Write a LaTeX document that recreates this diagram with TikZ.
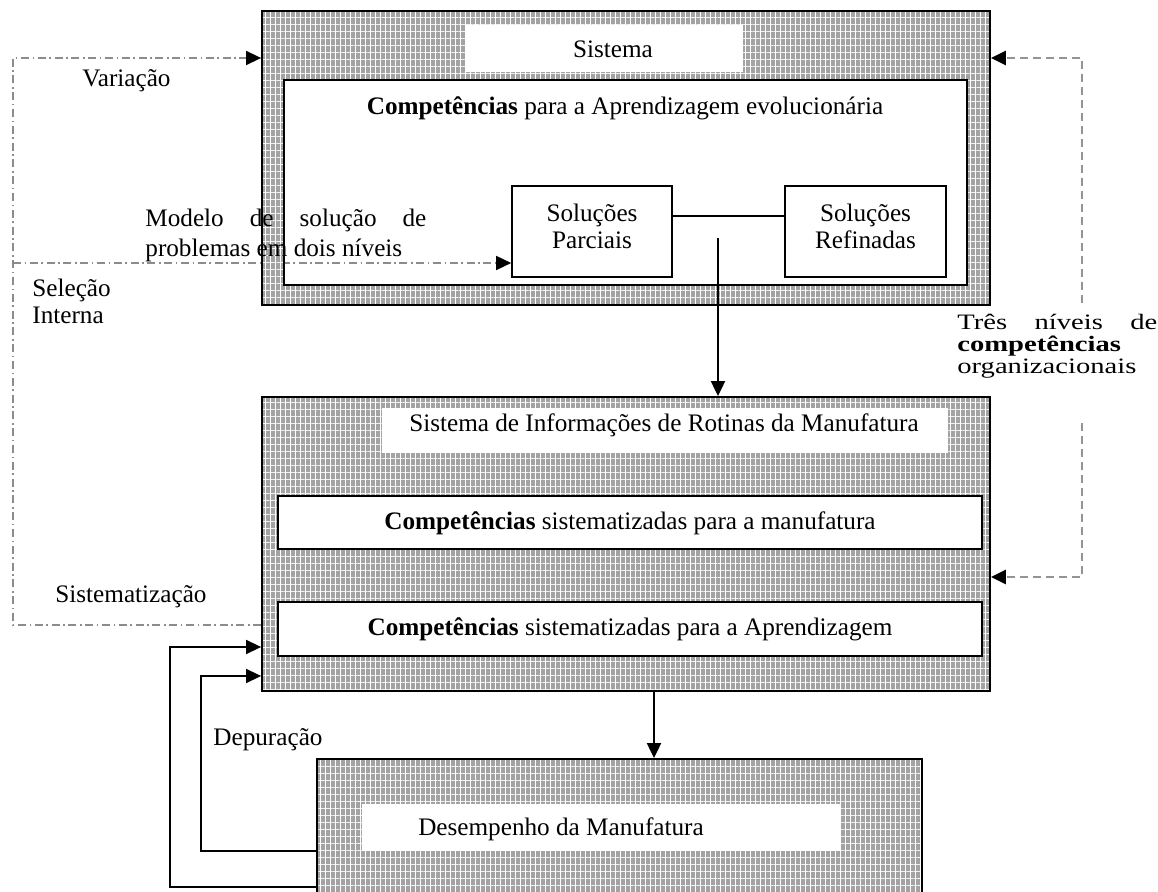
\documentclass[tikz,border=0pt]{standalone}
\usepackage{fontspec}
\setmainfont{Liberation Serif}
\usepackage{graphicx}
\usetikzlibrary{arrows.meta,patterns.meta,fit}
\pgfdeclarelayer{under}
\pgfdeclarelayer{shade}
\pgfsetlayers{under,shade,main}
\definecolor{texgray}{gray}{0.64}
\definecolor{linkgray}{gray}{0.55}
\definecolor{dashgray}{gray}{0.58}

\tikzset{
  lbl/.style={inner sep=0pt, font=\fontsize{12.6}{15}\selectfont},
  texture/.style={preaction={fill=texgray},
    preaction={pattern={Lines[angle=0,distance=3.5pt,line width=0.35pt]}, pattern color=white!85!texgray},
    pattern={Lines[angle=90,distance=2.5pt,line width=0.45pt]}, pattern color=white},
  frame/.style={lbl, draw=black, line width=0.9pt},
  band/.style={lbl, fill=white},
  whitebox/.style={lbl, fill=white, draw=black, line width=0.8pt},
  tip/.style={-{Triangle[length=7.5pt,width=7pt,color=black,fill=black]}},
  solidarrow/.style={line width=1pt, tip},
  feedback/.style={line width=0.75pt, tip},
  dashdotline/.style={draw=linkgray, line width=0.75pt, dash pattern=on 4pt off 1.8pt on 0.8pt off 1.8pt},
  dashedline/.style={draw=dashgray, line width=1.2pt, dash pattern=on 4pt off 2.5pt},
}

\begin{document}
\begin{tikzpicture}[x=0.5pt,y=-0.5pt]
\useasboundingbox (0,0) rectangle (1158,892);

% --- Sistema ---
\node[frame, fit={(262,11)(990,305)}] (sys) {};
\node[band, fit={(465,25)(743,72)}] (systitle) {};
\node[lbl] (systxt) at (613,49) {Sistema};
\node[frame, line width=0.8pt, fit={(284,80)(967,285)}] (sysin) {};
\node[lbl] (comp) at (625,108) {\textbf{Competências} para a Aprendizagem evolucionária};
\node[whitebox, fit={(512,186)(672,277)}] (parc) {};
\node[lbl, align=center, font=\fontsize{12.6}{13.5}\selectfont] (parctxt) at ([yshift=2.5pt]parc.center) {Soluções\\Parciais};
\node[whitebox, fit={(785,186)(946,277)}] (refi) {};
\node[lbl, align=center, font=\fontsize{12.6}{13.5}\selectfont] (refitxt) at ([yshift=2.5pt]refi.center) {Soluções\\Refinadas};

% textured ring around the inner panel
\begin{pgfonlayer}{shade}
  \begin{scope}[even odd rule]
    \path[texture] (sys.north west) rectangle (sys.south east)
                   (sysin.north west) rectangle (sysin.south east);
  \end{scope}
\end{pgfonlayer}

% --- Sistema de Informacoes ---
\node[frame, texture, fit={(262,397)(990,691)}] (inf) {};
\node[band, fit={(382,408)(948,453)}] (inftitle) {};
\node[lbl] (inftxt) at (664,425) {Sistema de Informações de Rotinas da Manufatura};
\node[whitebox, fit={(278,496)(982,549)}] (manu) {};
\node[lbl] (manutxt) at (630,523) {\textbf{Competências} sistematizadas para a manufatura};
\node[whitebox, fit={(278,602)(982,656)}] (apre) {};
\node[lbl] (apretxt) at (630,629) {\textbf{Competências} sistematizadas para a Aprendizagem};

% --- Desempenho ---
\node[frame, texture, fit={(317,759)(922,900)}] (des) {};
\node[band, fit={(362,804)(841,851)}] (destitle) {};
\node[lbl] (destxt) at (561,829) {Desempenho da Manufatura};

% --- solid connectors ---
\draw[line width=0.75pt] ([yshift=7.75pt]parc.east) -- ([yshift=7.75pt]refi.west);
\coordinate (jn) at (718,238);
\draw[solidarrow] (jn) -- (jn |- inf.north);
\coordinate (dn) at ([xshift=14pt]inf.south);
\draw[solidarrow] (dn) -- (dn |- des.north);
\draw[feedback] (des.west |- 0,887) -- (170,887) -- (170,647) -- (inf.west |- 0,647);
\draw[feedback] (des.west |- 0,851) -- (201,851) -- (201,676) -- (inf.west |- 0,676);

% --- dash-dot loop on the left ---
\draw[dashdotline, tip] (inf.west |- 0,625) -- (13,625) -- (13,58) -- (sys.west |- 0,58);
\begin{pgfonlayer}{under}
  \draw[dashdotline, tip] (13,263) -- (parc.west |- 0,263);
\end{pgfonlayer}

% --- dashed loop on the right ---
\coordinate (rt) at (1082,303);
\coordinate (rb) at (1082,423);
\draw[dashedline, tip] (rt) -- (1082,58) -- (sys.east |- 0,58);
\draw[dashedline, tip] (rb) -- (1082,577) -- (inf.east |- 0,577);

% --- labels ---
\node[lbl, anchor=base west] (lvar) at (82,87) {Variação};
\node[lbl, anchor=north west, align=left] (lmod) at (145,209)
  {\makebox[140.5pt][s]{Modelo de solução de}\\problemas em dois níveis};
\node[lbl, anchor=north west, align=left, font=\fontsize{12.6}{13.5}\selectfont] (lsel) at (32,279) {Seleção\\Interna};
\node[lbl, anchor=base west] (lsis) at (55,603) {Sistematização};
\node[lbl, anchor=base west] (ldep) at (213,746) {Depuração};
\node[lbl, anchor=north west, align=left, font=\fontsize{11}{11}\selectfont] (lniv) at (957,314)
  {\scalebox{1.3}[1]{\makebox[76.9pt][s]{Três níveis de}}\\
   \scalebox{1.3}[1]{\textbf{competências}}\\
   \scalebox{1.3}[1]{organizacionais}};
\end{tikzpicture}
\end{document}
